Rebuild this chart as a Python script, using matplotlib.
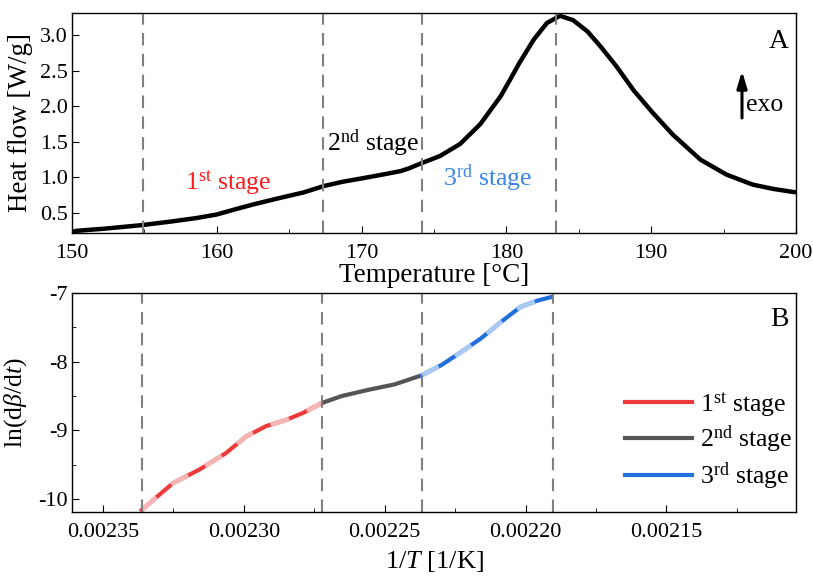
import matplotlib
matplotlib.use("Agg")
import matplotlib.pyplot as plt
from matplotlib.ticker import MultipleLocator, FormatStrFormatter

plt.rcParams['font.family'] = ['Liberation Serif', 'DejaVu Serif']
plt.rcParams['mathtext.fontset'] = 'custom'
plt.rcParams['mathtext.rm'] = 'Liberation Serif'
plt.rcParams['mathtext.it'] = 'Liberation Serif:italic'

# DSC curve (panel A)
temp = [150.0, 150.3, 152.2, 154.8, 156.8, 158.6, 160.0, 161.4, 162.5, 164.1, 166.0,
        167.4, 168.7, 170.1, 171.7, 172.7, 173.3, 174.0, 175.4, 176.8, 178.2, 179.6,
        180.3, 180.9, 181.9, 182.8, 183.7, 184.6, 185.6, 186.5, 187.6, 188.8, 190.1,
        191.5, 193.4, 195.2, 197.0, 198.4, 200.0]
heat = [0.23, 0.25, 0.28, 0.33, 0.38, 0.43, 0.48, 0.56, 0.62, 0.70, 0.79,
        0.88, 0.94, 0.99, 1.05, 1.09, 1.13, 1.19, 1.30, 1.47, 1.75, 2.14,
        2.39, 2.61, 2.94, 3.17, 3.27, 3.21, 3.05, 2.84, 2.56, 2.22, 1.91,
        1.60, 1.25, 1.04, 0.90, 0.84, 0.79]
stage_temps = [154.9, 167.3, 174.2, 183.4]

# ln(dbeta/dt) vs 1/T (panel B)
inv_t1 = [0.0023363, 0.0023252, 0.0023157, 0.0023063, 0.0022992, 0.0022922,
          0.0022851, 0.0022792, 0.0022722]
ln_r1 = [-10.16, -9.77, -9.57, -9.33, -9.09, -8.94, -8.85, -8.75, -8.60]
inv_t2 = [0.0022722, 0.0022652, 0.0022558, 0.0022464, 0.0022370]
ln_r2 = [-8.60, -8.50, -8.41, -8.33, -8.20]
inv_t3 = [0.0022370, 0.0022299, 0.0022229, 0.0022158, 0.0022087, 0.0022017,
          0.0021957, 0.0021910]
ln_r3 = [-8.20, -8.05, -7.86, -7.66, -7.42, -7.20, -7.11, -7.06]
stage_inv_t = [0.0023362, 0.0022723, 0.0022366, 0.0021903]

red = '#ee3a3a'
grey = '#555555'
blue = '#1f6fdc'

W, H = 813, 580
fig = plt.figure(figsize=(8.13, 5.8), dpi=100)
ax1 = fig.add_axes([0.0886, 0.5983, 0.8905, 0.3793])
ax2 = fig.add_axes([0.0886, 0.1172, 0.8905, 0.3776])


def ftext(x, y, s, **kw):
    # place text by pixel position in the figure
    fig.text(x / W, 1 - y / H, s, **kw)


# --- panel A
ax1.plot(temp, heat, color='black', lw=3.2, solid_capstyle='butt', solid_joinstyle='round')
for t in stage_temps:
    ax1.axvline(t, color='grey', ls=(0, (6, 4)), lw=1.5)
ax1.set_xlim(150, 200)
ax1.set_ylim(0.22, 3.31)
ax1.xaxis.set_major_locator(MultipleLocator(10))
ax1.xaxis.set_minor_locator(MultipleLocator(5))
ax1.yaxis.set_major_locator(MultipleLocator(0.5))
ax1.set_xlabel('Temperature [°C]', fontsize=19.5, labelpad=0)
ax1.set_ylabel('Heat flow [W/g]', fontsize=19.5, labelpad=5)
ftext(185, 183, r'1$^{\rm st}$ stage', color='#ff1a1a', fontsize=18.5, va='center')
ftext(327, 143, r'2$^{\rm nd}$ stage', color='black', fontsize=18.5, va='center')
ftext(443, 178, r'3$^{\rm rd}$ stage', color='#3a86e8', fontsize=18.5, va='center')
ftext(789, 42, 'A', fontsize=20, ha='right', va='center')
ax1.annotate('', xy=(742 / W, 1 - 71 / H), xytext=(742 / W, 1 - 118 / H),
             xycoords='figure fraction',
             arrowprops=dict(arrowstyle='-|>,head_width=0.3,head_length=1.0',
                             color='black', lw=2.2, shrinkA=0, shrinkB=0))
ftext(746, 105, 'exo', fontsize=18.5, ha='left', va='center')

# --- panel B
for x, y, c, lab in [(inv_t1, ln_r1, red, r'1$^{\rm st}$ stage'),
                     (inv_t2, ln_r2, grey, r'2$^{\rm nd}$ stage'),
                     (inv_t3, ln_r3, blue, r'3$^{\rm rd}$ stage')]:
    ax2.plot(x, y, color=c, lw=3, label=lab)
ax2.plot(inv_t1, ln_r1, color='#f5b5b5', lw=3.5, ls=(0, (4, 4)))
ax2.plot(inv_t3, ln_r3, color='#a9c9f3', lw=3.5, ls=(0, (4, 4)))
for v in stage_inv_t:
    ax2.axvline(v, color='grey', ls=(0, (6, 4)), lw=1.5)
ax2.set_xlim(0.002361, 0.002104)
ax2.set_ylim(-10.19, -7.0)
ax2.xaxis.set_major_locator(MultipleLocator(0.00005))
ax2.xaxis.set_minor_locator(MultipleLocator(0.000025))
ax2.yaxis.set_major_locator(MultipleLocator(1))
ax2.yaxis.set_minor_locator(MultipleLocator(0.5))
ax2.xaxis.set_major_formatter(FormatStrFormatter('%.5f'))
ax2.yaxis.set_major_formatter(FormatStrFormatter('%d'))
ax2.set_xlabel(r'1/$\it{T}$ [1/K]', fontsize=19, labelpad=5)
ax2.set_ylabel(r'ln(d$\it{\beta}$/d$\it{t}$)', fontsize=18.5, labelpad=7)
ftext(789, 320, 'B', fontsize=20, ha='right', va='center')
ax2.legend(loc='center right', bbox_to_anchor=(1.012, 0.325), frameon=False, fontsize=18.5,
           handlelength=2.6, handletextpad=0.3, labelspacing=0.2, borderaxespad=0.1)

for ax in (ax1, ax2):
    ax.tick_params(which='both', direction='in', labelsize=16)
    ax.tick_params(axis='x', pad=8)
    ax.tick_params(axis='y', pad=3)
    ax.tick_params(which='major', length=5)
    ax.tick_params(which='minor', length=3)
    for s in ax.spines.values():
        s.set_linewidth(1.0)

fig.savefig('out.png', dpi=100)
